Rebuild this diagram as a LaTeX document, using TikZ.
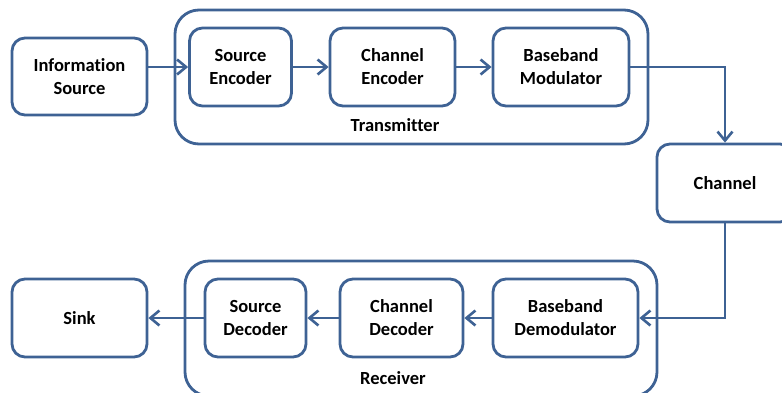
\documentclass[tikz,border=0pt]{standalone}
\usepackage{fontspec}
\setmainfont[Ligatures=NoCommon]{Carlito}
\usetikzlibrary{arrows.meta}
\definecolor{edge}{RGB}{62,98,148}
\begin{document}
\begin{tikzpicture}[x=1pt,y=-1pt,
  blk/.style={draw=edge,line width=2.8pt,rounded corners=13pt,align=center,font=\fontsize{18.5}{23}\selectfont\bfseries,inner sep=0pt},
  grp/.style={draw=edge,line width=2.8pt,rounded corners=24pt},
  lbl/.style={font=\fontsize{18.5}{23}\selectfont\bfseries},
  conn/.style={draw=edge,line width=2.8pt,-{Straight Barb[length=9pt,width=15pt,line width=2.6pt]}}]
\useasboundingbox (0,0) rectangle (782,392);
\begin{scope}
\clip (0,0) rectangle (782,392);
% group frames
\draw[grp] (175,10) rectangle (648,144);
\draw[grp] (185,261) rectangle (657,396);
\node[lbl] (tx) at (395,125) {Transmitter};
\node[lbl] (rx) at (393,378) {Receiver};
% blocks
\node[blk,minimum width=135pt,minimum height=77pt] (is) at (79.5,76.5) {Information\\Source};
\node[blk,minimum width=102pt,minimum height=78pt] (se) at (240.5,67) {Source\\Encoder};
\node[blk,minimum width=125pt,minimum height=78pt] (ce) at (392.5,67) {Channel\\Encoder};
\node[blk,minimum width=136pt,minimum height=78pt] (bm) at (561,67) {Baseband\\Modulator};
\node[blk,minimum width=136pt,minimum height=78pt,text width=136pt] (ch) at (725,183) {Channel};
\node[blk,minimum width=135pt,minimum height=78pt] (sk) at (79.5,318) {Sink};
\node[blk,minimum width=101pt,minimum height=78pt] (sd) at (255.5,318) {Source\\Decoder};
\node[blk,minimum width=123pt,minimum height=78pt] (cd) at (401.5,318) {Channel\\Decoder};
\node[blk,minimum width=145pt,minimum height=78pt] (bd) at (565.5,318) {Baseband\\Demodulator};
% connectors
\draw[conn] (is.east |- se.west) -- (se.west);
\draw[conn] (se) -- (ce);
\draw[conn] (ce) -- (bm);
\draw[conn] (bm.east) -| (ch.north);
\draw[conn] (ch.south) |- (bd.east);
\draw[conn] (bd) -- (cd);
\draw[conn] (cd) -- (sd);
\draw[conn] (sd) -- (sk);
\end{scope}
\end{tikzpicture}
\end{document}
